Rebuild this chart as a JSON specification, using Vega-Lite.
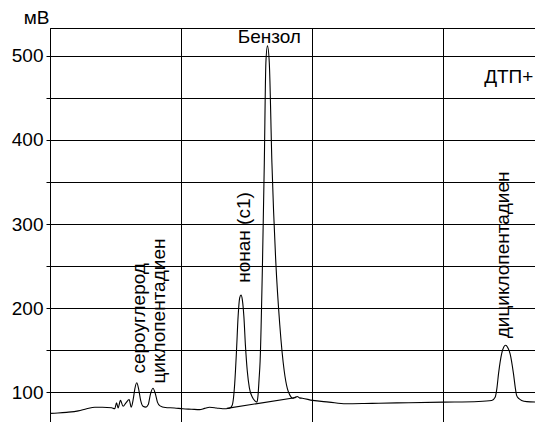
{
  "$schema": "https://vega.github.io/schema/vega-lite/v6.json",
  "width": 486,
  "height": 394,
  "autosize": "none",
  "padding": {"left": 50, "top": 28, "right": 0, "bottom": 0},
  "background": "white",
  "config": {
    "font": "Liberation Sans",
    "view": {"stroke": "#000", "strokeWidth": 1},
    "axis": {
      "labelFont": "Liberation Sans",
      "labelFontSize": 19,
      "labelColor": "#000",
      "gridColor": "#000",
      "gridOpacity": 1,
      "gridWidth": 1,
      "domainColor": "#000",
      "tickColor": "#000"
    }
  },
  "datasets": {
    "trace": [
      {"s": "signal", "t": 0, "v": 74.5},
      {"s": "signal", "t": 0.3, "v": 75},
      {"s": "signal", "t": 0.63, "v": 75.8},
      {"s": "signal", "t": 1.08, "v": 77.5},
      {"s": "signal", "t": 1.4, "v": 80},
      {"s": "signal", "t": 1.71, "v": 81.8},
      {"s": "signal", "t": 2.0, "v": 81.8},
      {"s": "signal", "t": 2.35, "v": 81.2},
      {"s": "signal", "t": 2.47, "v": 80},
      {"s": "signal", "t": 2.54, "v": 87},
      {"s": "signal", "t": 2.6, "v": 81},
      {"s": "signal", "t": 2.69, "v": 90},
      {"s": "signal", "t": 2.79, "v": 83},
      {"s": "signal", "t": 2.9, "v": 87},
      {"s": "signal", "t": 3.02, "v": 91},
      {"s": "signal", "t": 3.1, "v": 82},
      {"s": "signal", "t": 3.18, "v": 92},
      {"s": "signal", "t": 3.24, "v": 104},
      {"s": "signal", "t": 3.31, "v": 111},
      {"s": "signal", "t": 3.38, "v": 104},
      {"s": "signal", "t": 3.46, "v": 90},
      {"s": "signal", "t": 3.55, "v": 83},
      {"s": "signal", "t": 3.66, "v": 82},
      {"s": "signal", "t": 3.75, "v": 85},
      {"s": "signal", "t": 3.83, "v": 97},
      {"s": "signal", "t": 3.93, "v": 104.5},
      {"s": "signal", "t": 4.02, "v": 98},
      {"s": "signal", "t": 4.1, "v": 88},
      {"s": "signal", "t": 4.2, "v": 83.5},
      {"s": "signal", "t": 4.4, "v": 81.5},
      {"s": "signal", "t": 4.75, "v": 81},
      {"s": "signal", "t": 5.07, "v": 80},
      {"s": "signal", "t": 5.4, "v": 79.5},
      {"s": "signal", "t": 5.71, "v": 79},
      {"s": "signal", "t": 5.9, "v": 80.5},
      {"s": "signal", "t": 6.09, "v": 81.8},
      {"s": "signal", "t": 6.35, "v": 81},
      {"s": "signal", "t": 6.59, "v": 80},
      {"s": "signal", "t": 6.85, "v": 80.7},
      {"s": "signal", "t": 6.95, "v": 84},
      {"s": "signal", "t": 7.0, "v": 92},
      {"s": "signal", "t": 7.05, "v": 110},
      {"s": "signal", "t": 7.12, "v": 150},
      {"s": "signal", "t": 7.18, "v": 190},
      {"s": "signal", "t": 7.24, "v": 212},
      {"s": "signal", "t": 7.29, "v": 215.5},
      {"s": "signal", "t": 7.34, "v": 210},
      {"s": "signal", "t": 7.4, "v": 190},
      {"s": "signal", "t": 7.46, "v": 155},
      {"s": "signal", "t": 7.53, "v": 125},
      {"s": "signal", "t": 7.61, "v": 105},
      {"s": "signal", "t": 7.72, "v": 94},
      {"s": "signal", "t": 7.82, "v": 89.5},
      {"s": "signal", "t": 7.9, "v": 88},
      {"s": "signal", "t": 7.94, "v": 96},
      {"s": "signal", "t": 7.98, "v": 115},
      {"s": "signal", "t": 8.02, "v": 137},
      {"s": "signal", "t": 8.11, "v": 253},
      {"s": "signal", "t": 8.18, "v": 373},
      {"s": "signal", "t": 8.24, "v": 492},
      {"s": "signal", "t": 8.3, "v": 512},
      {"s": "signal", "t": 8.37, "v": 492},
      {"s": "signal", "t": 8.47, "v": 373},
      {"s": "signal", "t": 8.62, "v": 254},
      {"s": "signal", "t": 8.77, "v": 180},
      {"s": "signal", "t": 8.94, "v": 125},
      {"s": "signal", "t": 9.06, "v": 104},
      {"s": "signal", "t": 9.16, "v": 96},
      {"s": "signal", "t": 9.26, "v": 92.5},
      {"s": "signal", "t": 9.34, "v": 93.5},
      {"s": "signal", "t": 9.44, "v": 94.7},
      {"s": "signal", "t": 9.52, "v": 93},
      {"s": "signal", "t": 9.63, "v": 92.6},
      {"s": "signal", "t": 10.02, "v": 90},
      {"s": "signal", "t": 10.65, "v": 88},
      {"s": "signal", "t": 11.29, "v": 86},
      {"s": "signal", "t": 12.0, "v": 86.3},
      {"s": "signal", "t": 12.55, "v": 86.7},
      {"s": "signal", "t": 13.69, "v": 87.2},
      {"s": "signal", "t": 15.02, "v": 87.9},
      {"s": "signal", "t": 16.36, "v": 88.7},
      {"s": "signal", "t": 16.86, "v": 89.9},
      {"s": "signal", "t": 16.99, "v": 93.8},
      {"s": "signal", "t": 17.06, "v": 105},
      {"s": "signal", "t": 17.12, "v": 121.8},
      {"s": "signal", "t": 17.24, "v": 145.7},
      {"s": "signal", "t": 17.32, "v": 153.5},
      {"s": "signal", "t": 17.39, "v": 155.6},
      {"s": "signal", "t": 17.47, "v": 153},
      {"s": "signal", "t": 17.56, "v": 145.7},
      {"s": "signal", "t": 17.69, "v": 121.8},
      {"s": "signal", "t": 17.76, "v": 105},
      {"s": "signal", "t": 17.81, "v": 96},
      {"s": "signal", "t": 17.9, "v": 92},
      {"s": "signal", "t": 18.0, "v": 90},
      {"s": "signal", "t": 18.2, "v": 88.5},
      {"s": "signal", "t": 18.55, "v": 88},
      {"s": "baseline", "t": 6.75, "v": 80.5},
      {"s": "baseline", "t": 9.4, "v": 93.5}
    ],
    "labels": [
      {"label": "Бензол", "t": 8.37, "v": 515.5, "kind": "top"},
      {"label": "ДТП+", "t": 18.45, "v": 468, "kind": "right"},
      {"label": "сероуглерод", "t": 3.39, "v": 122, "kind": "vert"},
      {"label": "циклопентадиен", "t": 4.15, "v": 110, "kind": "vert"},
      {"label": "нонан (с1)", "t": 7.4, "v": 230, "kind": "vert"},
      {"label": "дициклопентадиен", "t": 17.3, "v": 164, "kind": "vert"}
    ]
  },
  "encoding": {
    "x": {
      "field": "t",
      "type": "quantitative",
      "scale": {"domain": [0, 18.55], "nice": false, "zero": false},
      "axis": {
        "values": [0, 5, 10, 15],
        "labelExpr": "datum.value === 0 ? '0' : datum.value + ':00'",
        "ticks": false,
        "labelPadding": 5,
        "labelFlush": false,
        "title": null,
        "grid": true
      }
    },
    "y": {
      "field": "v",
      "type": "quantitative",
      "scale": {"domain": [64.29, 533.33], "nice": false, "zero": false},
      "axis": {
        "values": [100, 150, 200, 250, 300, 350, 400, 450, 500],
        "labelExpr": "datum.value % 100 === 0 ? datum.label : ''",
        "tickSize": 4,
        "labelPadding": 3,
        "grid": true,
        "title": "мВ",
        "titleFont": "Liberation Sans",
        "titleFontSize": 19,
        "titleFontWeight": "normal",
        "titleColor": "#000",
        "titleAngle": 0,
        "titleAlign": "right",
        "titleBaseline": "alphabetic",
        "titleX": -1,
        "titleY": -5
      }
    }
  },
  "layer": [
    {
      "data": {"name": "trace"},
      "mark": {"type": "line", "color": "black", "strokeWidth": 1.1, "interpolate": "monotone", "clip": true},
      "encoding": {
        "detail": {"field": "s"},
        "order": {"field": "t", "type": "quantitative"}
      }
    },
    {
      "data": {"name": "labels"},
      "transform": [{"filter": "datum.kind === 'top'"}],
      "mark": {"type": "text", "fontSize": 19, "color": "#000", "align": "center", "baseline": "alphabetic"},
      "encoding": {"text": {"field": "label"}}
    },
    {
      "data": {"name": "labels"},
      "transform": [{"filter": "datum.kind === 'right'"}],
      "mark": {"type": "text", "fontSize": 19, "color": "#000", "align": "right", "baseline": "alphabetic"},
      "encoding": {"text": {"field": "label"}}
    },
    {
      "data": {"name": "labels"},
      "transform": [{"filter": "datum.kind === 'vert'"}],
      "mark": {"type": "text", "fontSize": 19, "color": "#000", "align": "left", "baseline": "middle", "angle": 270},
      "encoding": {"text": {"field": "label"}}
    }
  ]
}
